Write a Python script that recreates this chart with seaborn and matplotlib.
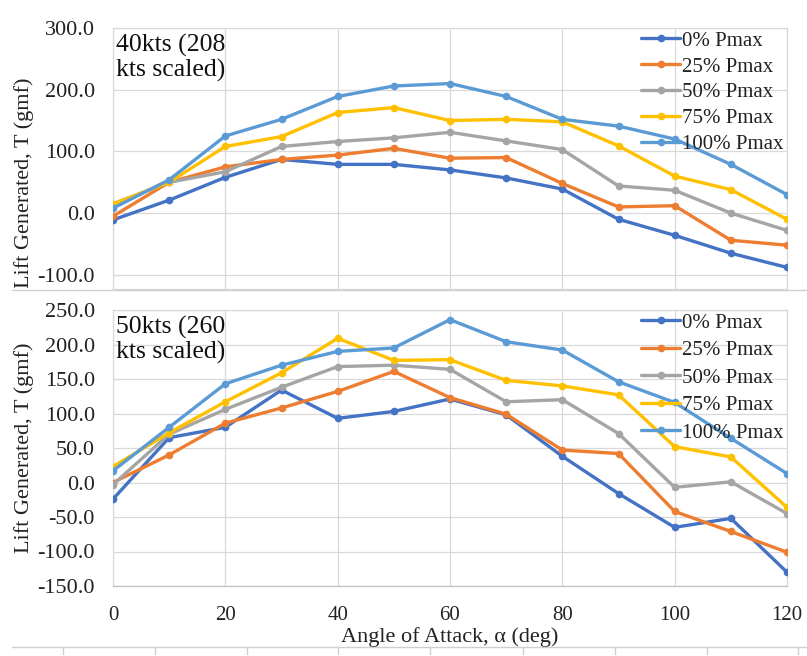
import numpy as np
import pandas as pd
import matplotlib
matplotlib.use("Agg")
import matplotlib.pyplot as plt
from matplotlib.lines import Line2D
from matplotlib.transforms import Bbox
import seaborn as sns

# ---------------- data ----------------
aoa = [0, 10, 20, 30, 40, 50, 60, 70, 80, 90, 100, 110, 120]
series_names = ["0% Pmax", "25% Pmax", "50% Pmax", "75% Pmax", "100% Pmax"]

# 40 kts (208 kts scaled)
top_p0 = [-11, 21, 58, 87, 79, 79, 70, 57, 39, -10, -36, -65, -88]
top_p25 = [-5, 50, 75, 87, 94, 105, 89, 90, 48, 10, 12, -44, -52]
top_p50 = [15, 50, 67, 108, 116, 122, 131, 117, 103, 44, 37, 0, -28]
top_p75 = [15, 50, 108, 124, 163, 171, 150, 152, 148, 109, 60, 38, -10]
top_p100 = [8, 54, 125, 152, 189, 206, 210, 189, 152, 141, 120, 79, 30]

# 50 kts (260 kts scaled)
bot_p0 = [-24, 65, 80, 134, 93, 103, 121, 98, 38, -16, -65, -52, -130]
bot_p25 = [0, 40, 86, 108, 132, 161, 123, 99, 47, 42, -42, -71, -101]
bot_p50 = [-3, 70, 106, 138, 168, 170, 164, 117, 120, 71, -7, 1, -45]
bot_p75 = [23, 72, 117, 159, 209, 177, 178, 148, 140, 127, 52, 37, -36]
bot_p100 = [17, 80, 143, 170, 190, 195, 236, 204, 192, 146, 116, 64, 13]

top_title = "40kts (208\nkts scaled)"
bot_title = "50kts (260\nkts scaled)"
ylabel = "Lift Generated, T (gmf)"
xlabel = "Angle of Attack, α (deg)"

colors = ["#4472C4", "#ED7D31", "#A5A5A5", "#FFC000", "#5B9BD5"]


def long_df(cols):
    rows = []
    for name, vals in zip(series_names, cols):
        for a, v in zip(aoa, vals):
            rows.append({"aoa": a, "lift": v, "series": name})
    return pd.DataFrame(rows)


df_top = long_df([top_p0, top_p25, top_p50, top_p75, top_p100])
df_bot = long_df([bot_p0, bot_p25, bot_p50, bot_p75, bot_p100])

# ---------------- style ----------------
sns.set_theme(style="white")
plt.rcParams["font.family"] = ["Liberation Serif", "DejaVu Serif"]

W, H = 807, 656
fig = plt.figure(figsize=(W / 100, H / 100), dpi=100)


def frac_axes(left, top, right, bottom):
    return fig.add_axes([left / W, 1 - bottom / H, (right - left) / W, (bottom - top) / H])


ax_top = frac_axes(113, 28, 787, 289)
ax_bot = frac_axes(113, 310, 787, 586)

grid_c = "#D9D9D9"
palette = dict(zip(series_names, colors))
LW = 2.4
MS = 5.5


def draw(ax, df, ylim, yticks, title, show_x, ylabel_y, lspace):
    sns.lineplot(data=df, x="aoa", y="lift", hue="series", palette=palette,
                 hue_order=series_names, marker="o", markersize=MS,
                 markeredgewidth=0, linewidth=LW, estimator=None, sort=False,
                 legend=False, ax=ax, zorder=3)
    ax.set_xlim(0, 120)
    ax.set_ylim(*ylim)
    ax.set_xticks([0, 20, 40, 60, 80, 100, 120])
    ax.set_yticks(yticks)
    ax.set_yticklabels([f"{v:.1f}" for v in yticks])
    ax.grid(True, color=grid_c, linewidth=0.9, zorder=0)
    ax.set_axisbelow(True)
    for s in ax.spines.values():
        s.set_color(grid_c)
        s.set_linewidth(0.9)
    ax.tick_params(axis="y", length=0, pad=13, labelsize=16, labelcolor="#222222")
    ax.tick_params(axis="x", length=0, pad=14.5, labelsize=15, labelcolor="#222222",
                   labelbottom=show_x)
    ax.set_xlabel("")
    ax.set_ylabel(ylabel, fontsize=16, color="#222222")
    ax.yaxis.set_label_coords(-0.117, ylabel_y)
    ax.text(0.005, 0.978, title, transform=ax.transAxes, ha="left", va="top",
            fontsize=18.5, linespacing=1.1, color="#111111", zorder=5)
    handles = [Line2D([], [], color=c, lw=LW, marker="o", markersize=MS,
                      markeredgewidth=0) for c in colors]
    ax.legend(handles, series_names, loc="upper right", bbox_to_anchor=(1.0, 1.0),
              frameon=False, fontsize=15, handlelength=1.9, handletextpad=0.1,
              borderaxespad=0.0, borderpad=0.15, labelspacing=lspace,
              labelcolor="#222222")


draw(ax_top, df_top, (-123, 300), [-100, 0, 100, 200, 300], top_title, False, 0.408, 0.3)
draw(ax_bot, df_bot, (-150, 250), [-150, -100, -50, 0, 50, 100, 150, 200, 250],
     bot_title, True, 0.5, 0.38)
ax_bot.spines["bottom"].set_color("#BFBFBF")
ax_bot.set_xlabel(xlabel, fontsize=16, color="#222222", labelpad=1.5)

# the top chart is cropped at its lower edge in the source image
top_lab = ax_top.yaxis.label
top_lab.set_clip_box(Bbox.from_extents(0, H - 288, W, H))
top_lab.set_clip_on(True)

# decorative separator lines of the cropped source figure
sep_c = "#D0D0D0"
fig.add_artist(Line2D([12 / W, 1.0], [1 - 289.5 / H] * 2, transform=fig.transFigure,
                      color=sep_c, lw=1.0))
fig.add_artist(Line2D([12 / W, 1.0], [1 - 647 / H] * 2, transform=fig.transFigure,
                      color=sep_c, lw=1.0))
for px in [63, 155, 247, 338, 430, 523, 615, 707, 798]:
    fig.add_artist(Line2D([px / W] * 2, [1 - 647 / H, 1 - 654 / H],
                          transform=fig.transFigure, color=sep_c, lw=1.0))

fig.savefig("out.png", dpi=100)
